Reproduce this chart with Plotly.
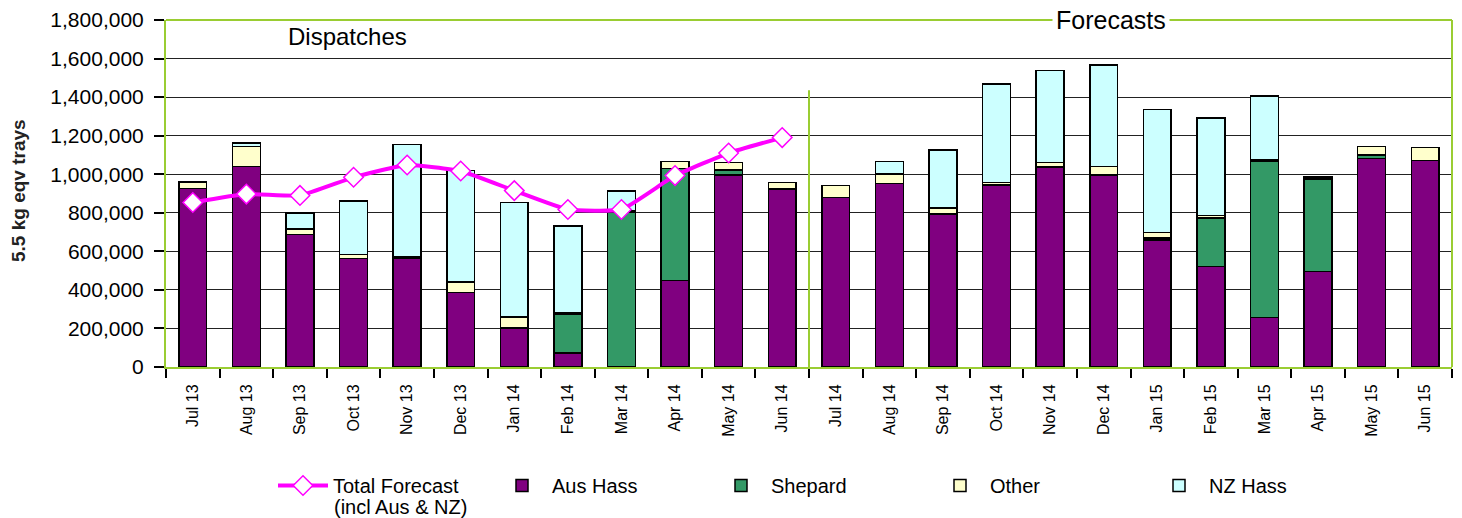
import plotly.graph_objects as go

months = ["Jul 13", "Aug 13", "Sep 13", "Oct 13", "Nov 13", "Dec 13", "Jan 14", "Feb 14",
          "Mar 14", "Apr 14", "May 14", "Jun 14", "Jul 14", "Aug 14", "Sep 14", "Oct 14",
          "Nov 14", "Dec 14", "Jan 15", "Feb 15", "Mar 15", "Apr 15", "May 15", "Jun 15"]

aus_hass = [925000, 1040000, 688000, 564000, 562000, 386000, 203000, 72000,
            0, 450000, 995000, 924000, 878000, 952000, 793000, 943000,
            1038000, 997000, 660000, 521000, 257000, 495000, 1081000, 1072000]
shepard = [0, 0, 0, 0, 8000, 0, 0, 202000,
           805000, 581000, 27000, 0, 0, 0, 0, 0,
           0, 0, 10000, 253000, 808000, 481000, 19000, 0]
other = [35000, 103000, 29000, 19000, 4000, 54000, 56000, 10000,
         7000, 34000, 38000, 34000, 63000, 50000, 33000, 15000,
         24000, 43000, 28000, 12000, 10000, 10000, 43000, 66000]
nz_hass = [0, 20000, 83000, 277000, 580000, 579000, 594000, 447000,
           102000, 0, 0, 0, 0, 63000, 300000, 511000,
           476000, 527000, 638000, 505000, 330000, 0, 0, 0]

total_months = months[:12]
total_forecast = [853000, 897000, 890000, 984000, 1048000, 1017000,
                  915000, 817000, 817000, 993000, 1110000, 1190000]

FONT = "Liberation Sans, Arial, sans-serif"
GREEN = "#9ACD32"
PW = 1286.0
PH = 347.0

fig = go.Figure()

fig.add_trace(go.Scatter(
    x=total_months, y=total_forecast, name="Total Forecast",
    mode="lines+markers",
    line=dict(color="#FF00FF", width=4, shape="spline", smoothing=0.4),
    marker=dict(symbol="diamond", size=15, color="white",
                line=dict(color="#FF00FF", width=1.5)),
))

for name, vals, col in [("Aus Hass", aus_hass, "#800080"),
                        ("Shepard", shepard, "#339966"),
                        ("Other", other, "#FFFFCC"),
                        ("NZ Hass", nz_hass, "#CCFFFF")]:
    fig.add_trace(go.Bar(
        x=months, y=vals, name=name, width=0.52,
        marker=dict(color=col, line=dict(color="black", width=1.5)),
    ))

fig.update_layout(
    barmode="stack",
    width=1462, height=518,
    margin=dict(l=166, r=10, t=20, b=151, autoexpand=False),
    paper_bgcolor="white", plot_bgcolor="white",
    font=dict(family=FONT, size=18, color="black"),
    showlegend=True,
    legend=dict(orientation="h", x=(273 - 166) / PW, xanchor="left",
                y=-(466 - 367) / PH, yanchor="top",
                itemwidth=50,
                entrywidth=154, entrywidthmode="pixels", valign="top",
                font=dict(family=FONT, size=20, color="black"),
                traceorder="normal", tracegroupgap=0),
    xaxis=dict(type="category", categoryorder="array", categoryarray=months,
               range=[-0.5, 23.5],
               tickangle=-90, tickson="boundaries", ticks="outside", ticklen=9,
               tickcolor="black", tickwidth=1.5, showline=True, linecolor=GREEN, linewidth=2,
               ticklabelstandoff=9,
               showgrid=False, tickfont=dict(family=FONT, size=16, color="black")),
    yaxis=dict(range=[0, 1800000], dtick=200000, tickformat=",",
               showgrid=True, gridcolor="#222222", gridwidth=1.2,
               ticks="outside", ticklen=10, tickcolor="black", tickwidth=1.5,
               showline=True, linecolor=GREEN, linewidth=2,
               ticklabelstandoff=6, zeroline=False,
               tickfont=dict(family=FONT, size=21, color="black")),
    shapes=[
        dict(type="line", xref="paper", yref="paper", x0=0, x1=1, y0=1, y1=1,
             line=dict(color=GREEN, width=2)),
        dict(type="line", xref="paper", yref="paper", x0=1, x1=1, y0=0, y1=1,
             line=dict(color=GREEN, width=2)),
        dict(type="line", xref="x", yref="y", x0=11.5, x1=11.5, y0=0, y1=1435000,
             line=dict(color=GREEN, width=2)),
    ],
    annotations=[
        dict(text="Dispatches", xref="paper", yref="paper",
             x=(347 - 166) / PW, y=(367 - 36) / PH, showarrow=False,
             xanchor="center", yanchor="middle",
             font=dict(family=FONT, size=24, color="black")),
        dict(text="Forecasts", xref="paper", yref="paper",
             x=(1111 - 166) / PW, y=(367 - 20) / PH, showarrow=False, bgcolor="white",
             xanchor="center", yanchor="middle", borderpad=3,
             font=dict(family=FONT, size=25, color="black")),
        dict(text="<b>5.5 kg eqv trays</b>", xref="paper", yref="paper",
             x=(18 - 166) / PW, y=(367 - 191) / PH, textangle=-90, showarrow=False,
             xanchor="center", yanchor="middle",
             font=dict(family=FONT, size=19, color="#222222")),
        dict(text="(incl Aus & NZ)", xref="paper", yref="paper",
             x=(332 - 166) / PW, y=-(507 - 367) / PH, showarrow=False,
             xanchor="left", yanchor="middle",
             font=dict(family=FONT, size=20, color="black")),
    ],
)

fig.write_html("out.html", config={"displayModeBar": False},
               post_script="document.body.style.margin='0';document.body.style.overflow='hidden';")
